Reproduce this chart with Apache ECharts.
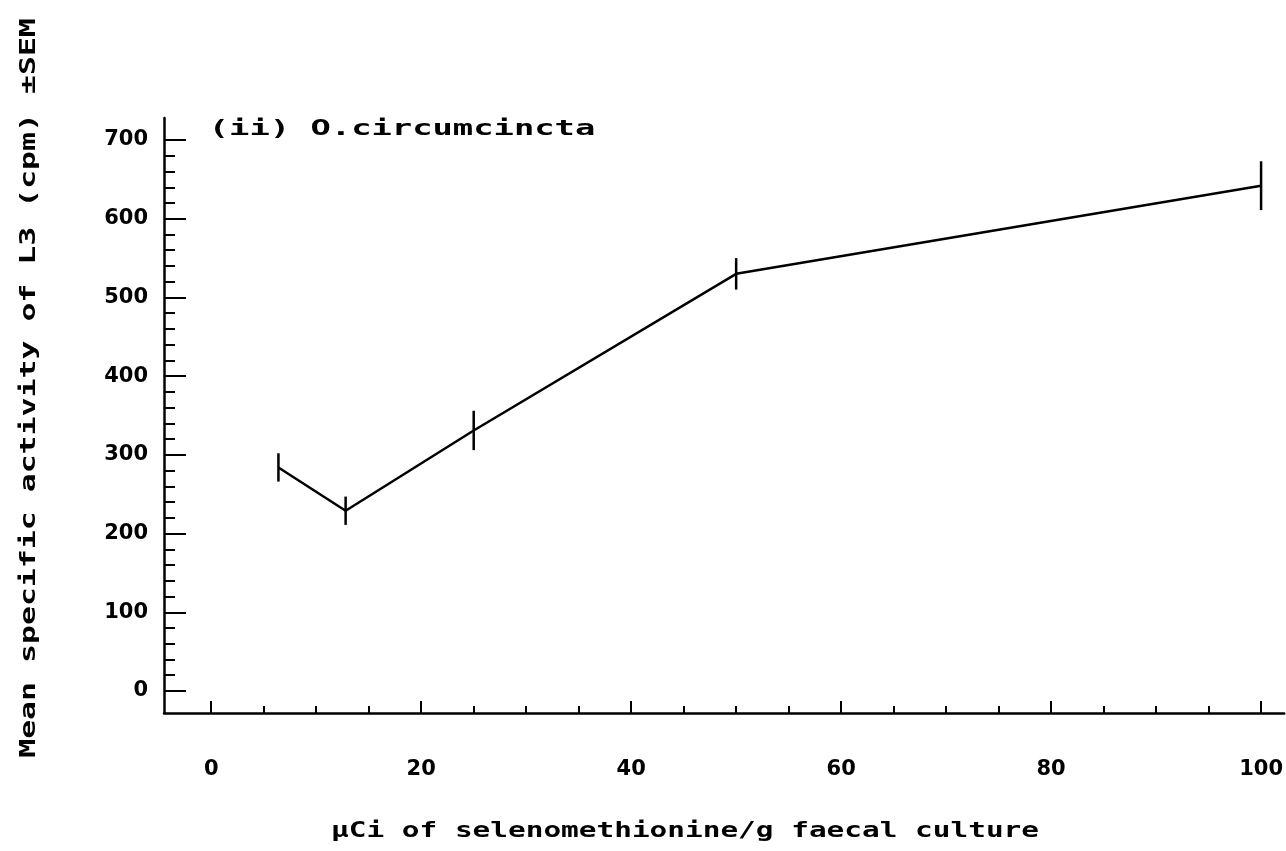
<!DOCTYPE html>
<html>
<head>
<meta charset="utf-8">
<script src="https://cdn.jsdelivr.net/npm/echarts@6/dist/echarts.min.js"></script>
<style>
  html, body { margin: 0; padding: 0; background: #fff; }
  #chart { width: 1286px; height: 851px; }
</style>
</head>
<body>
<div id="chart"></div>
<script>
// Selenomethionine dose (µCi/g faecal culture) against mean L3 activity
const doseValues = [6.4, 12.8, 25, 50, 100];
const meanActivity = [284, 229, 331, 530, 642];
const semValues = [18, 18, 25, 20, 31];

// Axis tick positions
const xMajorTicks = [0, 20, 40, 60, 80, 100];
const xMinorTicks = [0, 5, 10, 15, 20, 25, 30, 35, 40, 45, 50, 55, 60, 65, 70, 75, 80, 85, 90, 95, 100];
const yMajorTicks = [0, 100, 200, 300, 400, 500, 600, 700];
const yMinorTicks = [0, 20, 40, 60, 80, 100, 120, 140, 160, 180, 200, 220, 240, 260, 280, 300,
  320, 340, 360, 380, 400, 420, 440, 460, 480, 500, 520, 540, 560, 580, 600, 620, 640, 660, 680, 700];

const panelTitle = '(ii) O.circumcincta';
const xTitle = 'μCi of selenomethionine/g faecal culture';
const yTitle = 'Mean specific activity of L3 (cpm) ±SEM';

const X_MIN = -4.5, X_MAX = 102.2;
const Y_MIN = -28, Y_MAX = 728;

const ink = '#000';
const labelFont = { color: ink, fontFamily: 'DejaVu Sans', fontWeight: 'bold', fontSize: 21 };
const monoFont = '"DejaVu Sans Mono"';
const strokeW = 2.5;

const meanPoints = doseValues.map((x, i) => [x, meanActivity[i]]);
const errorPoints = doseValues.map((x, i) => [x, meanActivity[i], semValues[i]]);

function baseAxis(extra) {
  return Object.assign({
    type: 'value',
    gridIndex: 0,
    splitLine: { show: false },
    axisLine: { show: false, onZero: false },
    axisLabel: { show: false },
    axisTick: { show: false }
  }, extra);
}

const chart = echarts.init(document.getElementById('chart'), null, { renderer: 'canvas' });

chart.setOption({
  backgroundColor: '#fff',
  animation: false,
  grid: { left: 164, right: 0, top: 118, bottom: 138, containLabel: false },
  xAxis: [
    baseAxis({
      position: 'bottom', min: X_MIN, max: X_MAX,
      axisLine: { show: true, onZero: false, lineStyle: { color: ink, width: strokeW } },
      axisTick: { show: true, inside: true, length: 12, customValues: xMajorTicks, lineStyle: { color: ink, width: 2 } },
      axisLabel: Object.assign({ show: true, margin: 46, customValues: xMajorTicks }, labelFont)
    }),
    baseAxis({
      position: 'bottom', min: X_MIN, max: X_MAX,
      axisTick: { show: true, inside: true, length: 7, customValues: xMinorTicks, lineStyle: { color: ink, width: 2 } }
    })
  ],
  yAxis: [
    baseAxis({
      position: 'left', min: Y_MIN, max: Y_MAX,
      axisLine: { show: true, onZero: false, lineStyle: { color: ink, width: strokeW } },
      axisTick: { show: true, inside: true, length: 22, customValues: yMajorTicks, lineStyle: { color: ink, width: 2 } },
      axisLabel: Object.assign({ show: true, margin: 16, customValues: yMajorTicks }, labelFont)
    }),
    baseAxis({
      position: 'left', min: Y_MIN, max: Y_MAX,
      axisTick: { show: true, inside: true, length: 11, customValues: yMinorTicks, lineStyle: { color: ink, width: 2 } }
    })
  ],
  series: [
    {
      type: 'line',
      xAxisIndex: 0, yAxisIndex: 0,
      data: meanPoints,
      showSymbol: false,
      lineStyle: { color: ink, width: strokeW },
      z: 3
    },
    {
      type: 'custom',
      xAxisIndex: 0, yAxisIndex: 0,
      data: errorPoints,
      renderItem: function (params, api) {
        const x = api.value(0), y = api.value(1), e = api.value(2);
        const top = api.coord([x, y + e]);
        const bottom = api.coord([x, y - e]);
        return {
          type: 'line',
          shape: { x1: top[0], y1: top[1], x2: bottom[0], y2: bottom[1] },
          style: { stroke: ink, lineWidth: strokeW }
        };
      },
      z: 4
    }
  ],
  graphic: [
    {
      type: 'text', x: 402, y: 129, scaleX: 1.536,
      style: { text: panelTitle, font: 'bold 22px ' + monoFont, fill: ink, textAlign: 'center', textVerticalAlign: 'middle' }
    },
    {
      type: 'text', x: 685, y: 832, scaleX: 1.40,
      style: { text: xTitle, font: 'bold 21px ' + monoFont, fill: ink, textAlign: 'center', textVerticalAlign: 'middle' }
    },
    {
      type: 'text', x: 30, y: 388, rotation: Math.PI / 2, scaleX: 1.50,
      style: { text: yTitle, font: 'bold 21px ' + monoFont, fill: ink, textAlign: 'center', textVerticalAlign: 'middle' }
    }
  ]
});
</script>
</body>
</html>
